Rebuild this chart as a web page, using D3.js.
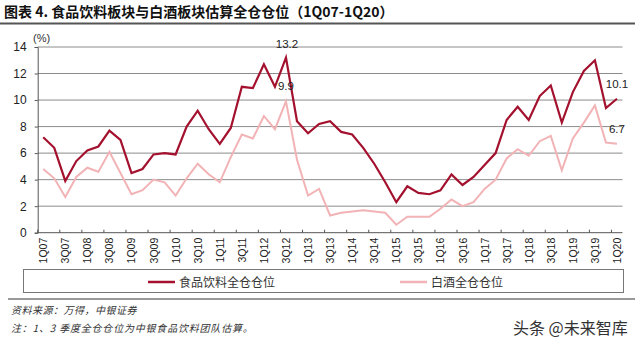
<!DOCTYPE html>
<html>
<head>
<meta charset="utf-8">
<script src="https://cdn.jsdelivr.net/npm/d3@7"></script>
<style>
  body { margin: 0; background: #fff; }
  svg { display: block; font-family: "Liberation Sans", Arial, sans-serif; }
</style>
</head>
<body>
<div id="chart"></div>
<script>
// Quarters 1Q07 .. 1Q20
var quarters = [];
for (var yr = 7; yr <= 20; yr++) {
  for (var q = 1; q <= 4; q++) {
    if (yr === 20 && q > 1) break;
    quarters.push(q + 'Q' + (yr < 10 ? '0' + yr : yr));
  }
}

// Food & beverage sector full position (%)
var foodValues = [7.2, 6.4, 3.9, 5.4, 6.2, 6.5, 7.7, 7.0, 4.5, 4.8, 5.9, 6.0,
  5.9, 8.0, 9.2, 7.8, 6.7, 7.9, 11.0, 10.9, 12.7, 11.0, 13.2, 8.4, 7.5, 8.2,
  8.4, 7.6, 7.4, 6.4, 5.2, 3.8, 2.3, 3.5, 3.0, 2.9, 3.2, 4.4, 3.6, 4.2, 5.1,
  6.0, 8.5, 9.5, 8.5, 10.3, 11.1, 8.3, 10.6, 12.2, 13.0, 9.4, 10.1];

// Baijiu sector full position (%)
var liquorValues = [4.8, 4.1, 2.7, 4.2, 4.9, 4.6, 6.1, 4.5, 2.9, 3.2, 4.0, 3.8,
  2.8, 4.1, 5.2, 4.4, 3.8, 5.7, 7.4, 7.1, 8.8, 7.8, 9.9, 5.5, 2.8, 3.3, 1.3,
  1.5, 1.6, 1.7, 1.6, 1.5, 0.6, 1.2, 1.2, 1.2, 1.8, 2.5, 2.0, 2.3, 3.3, 4.0,
  5.6, 6.3, 5.8, 6.9, 7.3, 4.7, 7.1, 8.3, 9.6, 6.8, 6.7];

var yTicks = [0, 2, 4, 6, 8, 10, 12, 14];
var seriesNames = ['食品饮料全仓仓位', '白酒全仓仓位'];
var seriesColors = ['#a3112e', '#f2b3b6'];

var width = 640, height = 348;
var margin = { top: 47, right: 17.5, bottom: 115.3, left: 37.7 };

var svg = d3.select('#chart').append('svg')
  .attr('width', width)
  .attr('height', height);

// Title and rule under it
svg.append('text')
  .attr('x', 4)
  .attr('y', 17)
  .style('font-family', '"Noto Sans CJK SC", sans-serif')
  .style('font-size', '14px')
  .style('font-weight', 'bold')
  .attr('fill', '#111')
  .text('图表 4. 食品饮料板块与白酒板块估算全仓仓位（1Q07-1Q20）');
svg.append('line')
  .attr('x1', 0).attr('x2', 635)
  .attr('y1', 23.5).attr('y2', 23.5)
  .attr('stroke', '#555').attr('stroke-width', 2);

var xScale = d3.scaleBand()
  .domain(quarters)
  .range([margin.left, width - margin.right])
  .padding(0);

var yScale = d3.scaleLinear()
  .domain([0, 14])
  .range([height - margin.bottom, margin.top]);

var xMid = function(d, i) { return xScale(quarters[i]) + xScale.bandwidth() / 2; };

// Gridlines
svg.append('g')
  .selectAll('line')
  .data(yTicks.filter(function(d) { return d > 0; }))
  .enter().append('line')
  .attr('x1', margin.left).attr('x2', width - margin.right)
  .attr('y1', function(d) { return yScale(d); })
  .attr('y2', function(d) { return yScale(d); })
  .attr('stroke', '#8c8c8c').attr('stroke-width', 1);

// Y axis
var yAxis = d3.axisLeft(yScale).tickValues(yTicks).tickSize(3).tickPadding(8);
var gy = svg.append('g')
  .attr('transform', 'translate(' + margin.left + ',0)')
  .call(yAxis);
gy.select('.domain').attr('stroke', '#555');
gy.selectAll('.tick line').attr('stroke', '#555');
gy.selectAll('.tick text').attr('fill', '#222').style('font-size', '12px');

svg.append('text')
  .attr('x', 33).attr('y', 42)
  .style('font-size', '11px')
  .attr('fill', '#333')
  .text('(%)');

// X axis: ticks every 2 quarters at category boundaries
var xg = svg.append('g')
  .attr('transform', 'translate(0,' + yScale(0) + ')');
xg.append('line')
  .attr('x1', margin.left).attr('x2', width - margin.right)
  .attr('stroke', '#555');
xg.selectAll('.xtick')
  .data(quarters.filter(function(d, i) { return i % 2 === 0; }))
  .enter().append('line')
  .attr('x1', function(d) { return xScale(d); })
  .attr('x2', function(d) { return xScale(d); })
  .attr('y1', -3).attr('y2', 0)
  .attr('stroke', '#555');
xg.selectAll('.xlabel')
  .data(quarters.filter(function(d, i) { return i % 2 === 0; }))
  .enter().append('text')
  .attr('transform', function(d) {
    return 'translate(' + (xScale(d) + xScale.bandwidth() / 2 + 4) + ',5) rotate(-90)';
  })
  .style('text-anchor', 'end')
  .style('font-size', '10.5px')
  .attr('fill', '#222')
  .text(function(d) { return d; });

// Lines
var line = d3.line()
  .x(function(d, i) { return xMid(d, i); })
  .y(function(d) { return yScale(d); });

svg.append('path')
  .datum(liquorValues)
  .attr('fill', 'none')
  .attr('stroke', seriesColors[1])
  .attr('stroke-width', 2)
  .attr('d', line);

svg.append('path')
  .datum(foodValues)
  .attr('fill', 'none')
  .attr('stroke', seriesColors[0])
  .attr('stroke-width', 2.2)
  .attr('d', line);

// Value labels
var labels = [
  { idx: 22, v: foodValues[22], dx: 1, dy: -10 },
  { idx: 22, v: liquorValues[22], dx: 0, dy: -11 },
  { idx: 52, v: foodValues[52], dx: 0, dy: -11 },
  { idx: 52, v: liquorValues[52], dx: 0, dy: -11 }
];
svg.selectAll('.vlabel')
  .data(labels)
  .enter().append('text')
  .attr('x', function(d) { return xMid(null, d.idx) + d.dx; })
  .attr('y', function(d) { return yScale(d.v) + d.dy; })
  .style('text-anchor', 'middle')
  .style('font-size', '11.5px')
  .attr('fill', '#222')
  .text(function(d) { return d.v.toFixed(1); });

// Legend
svg.append('rect')
  .attr('x', 23.5).attr('y', 269.5)
  .attr('width', 600).attr('height', 23)
  .attr('fill', 'none').attr('stroke', '#777');
var legendX = [148, 400];
var legend = svg.selectAll('.legend')
  .data(seriesNames)
  .enter().append('g')
  .attr('transform', function(d, i) { return 'translate(' + legendX[i] + ',282)'; });
legend.append('line')
  .attr('x1', 0).attr('x2', 27)
  .attr('stroke', function(d, i) { return seriesColors[i]; })
  .attr('stroke-width', 2.5);
legend.append('text')
  .attr('x', 31).attr('y', 4.5)
  .style('font-family', '"Noto Sans CJK SC", sans-serif')
  .style('font-size', '12px')
  .attr('fill', '#333')
  .text(function(d) { return d; });

// Footer
svg.append('line')
  .attr('x1', 8).attr('x2', 635)
  .attr('y1', 299).attr('y2', 299)
  .attr('stroke', '#777').attr('stroke-width', 1.5);
svg.append('text')
  .attr('x', 11).attr('y', 314)
  .style('font-family', '"Noto Sans CJK SC", sans-serif')
  .style('font-size', '10px')
  .style('font-style', 'italic')
  .style('letter-spacing', '0.5px')
  .attr('fill', '#333')
  .text('资料来源：万得，中银证券');
svg.append('text')
  .attr('x', 11).attr('y', 332)
  .style('font-family', '"Noto Sans CJK SC", sans-serif')
  .style('font-size', '10px')
  .style('font-style', 'italic')
  .style('letter-spacing', '0.8px')
  .attr('fill', '#333')
  .text('注：1、3 季度全仓仓位为中银食品饮料团队估算。');
svg.append('text')
  .attr('x', 513).attr('y', 334)
  .style('font-family', '"Noto Sans CJK SC", sans-serif')
  .style('font-size', '16px')
  .attr('fill', '#333')
  .text('头条 @未来智库');
</script>
</body>
</html>
